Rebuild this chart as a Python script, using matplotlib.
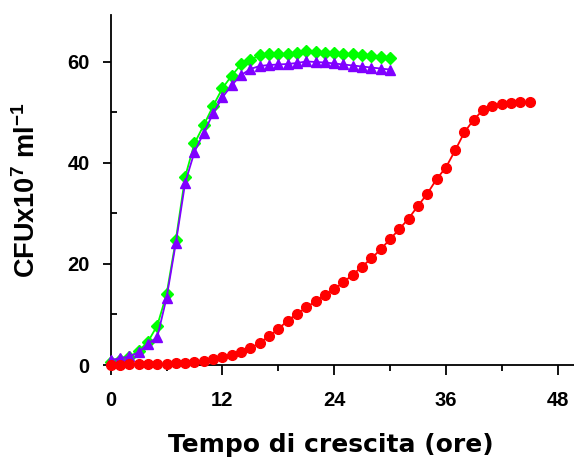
import matplotlib
matplotlib.use("Agg")
import matplotlib.pyplot as plt
from matplotlib.ticker import FixedLocator

plt.rcParams['mathtext.fontset'] = 'custom'
plt.rcParams['mathtext.rm'] = 'Liberation Sans:bold'
plt.rcParams['mathtext.bf'] = 'Liberation Sans:bold'
plt.rcParams['mathtext.it'] = 'Liberation Sans:bold'
plt.rcParams['mathtext.default'] = 'rm'

# Data (hours, CFU x10^7 / ml)
t_green = list(range(0, 31))
green = [0.5, 0.9, 1.5, 2.8, 4.6, 7.8, 14.0, 24.8, 37.3, 43.9, 47.5, 51.3, 54.8, 57.3,
         59.5, 60.4, 61.3, 61.5, 61.6, 61.6, 61.7, 62.2, 62.0, 61.8, 61.7, 61.6, 61.5,
         61.3, 61.2, 61.0, 60.8]

t_purple = list(range(0, 31))
purple = [1.0, 1.3, 1.7, 2.5, 4.2, 5.5, 13.3, 24.2, 36.1, 42.2, 46.0, 49.8, 53.0, 55.4,
          57.4, 58.6, 59.2, 59.4, 59.5, 59.6, 59.8, 60.1, 60.0, 59.9, 59.7, 59.5, 59.3,
          59.1, 58.9, 58.7, 58.5]

t_red = list(range(0, 46))
red = [0.0, 0.05, 0.1, 0.1, 0.15, 0.2, 0.25, 0.3, 0.35, 0.55, 0.85, 1.2, 1.65, 2.0,
       2.5, 3.3, 4.4, 5.7, 7.1, 8.8, 10.1, 11.4, 12.6, 13.8, 15.0, 16.4, 17.9, 19.5,
       21.1, 22.9, 24.9, 26.9, 29.0, 31.5, 33.9, 36.8, 39.1, 42.5, 46.1, 48.6, 50.5,
       51.3, 51.7, 51.9, 52.1, 52.1]

x_ticks = [0, 12, 24, 36, 48]
y_ticks = [0, 20, 40, 60]

fig = plt.figure(figsize=(5.74, 4.65), dpi=100)
ax = fig.add_axes([110.7 / 574, 100 / 465, 465.5 / 574, 350 / 465])

ax.plot(t_green, green, color='#00FF00', marker='D', markersize=6.5, lw=1.3,
        clip_on=False, zorder=3)
ax.plot(t_purple, purple, color='#8000FF', marker='^', markersize=7.5, lw=1.3,
        clip_on=False, zorder=4)
ax.plot(t_red, red, color='#FF0000', marker='o', markersize=7, lw=1.3,
        clip_on=False, zorder=5)

ax.set_xlim(0, 50)
ax.set_ylim(0, 69.3)

for s in ['top', 'right']:
    ax.spines[s].set_visible(False)
for s in ['left', 'bottom']:
    ax.spines[s].set_linewidth(1.3)

ax.xaxis.set_major_locator(FixedLocator(x_ticks))
ax.xaxis.set_minor_locator(FixedLocator([6, 18, 30, 42]))
ax.yaxis.set_major_locator(FixedLocator(y_ticks))
ax.yaxis.set_minor_locator(FixedLocator([10, 30, 50]))

ax.tick_params(axis='x', which='major', direction='out', length=7, width=1.3,
               labelsize=14.5, pad=12)
ax.tick_params(axis='y', which='major', direction='out', length=6, width=1.3,
               labelsize=14.5, pad=9)
ax.tick_params(axis='x', which='minor', direction='out', length=4, width=1.3)
ax.tick_params(axis='y', which='minor', direction='in', length=4, width=1.3)

ax.set_xticklabels([str(v) for v in x_ticks], fontfamily='Liberation Sans', fontweight='bold')
ax.set_yticklabels([str(v) for v in y_ticks], fontfamily='Liberation Sans', fontweight='bold')

ax.set_xlabel('Tempo di crescita (ore)', fontfamily='DejaVu Sans', fontweight='bold',
              fontsize=18)
ax.xaxis.set_label_coords((331 - 110.7) / 465.5, -0.195)
ax.set_ylabel(r'CFUx10$^{7}$ ml$^{-1}$', fontfamily='Liberation Sans', fontweight='bold',
              fontsize=19.5, labelpad=19)

fig.savefig('out.png', dpi=100)
